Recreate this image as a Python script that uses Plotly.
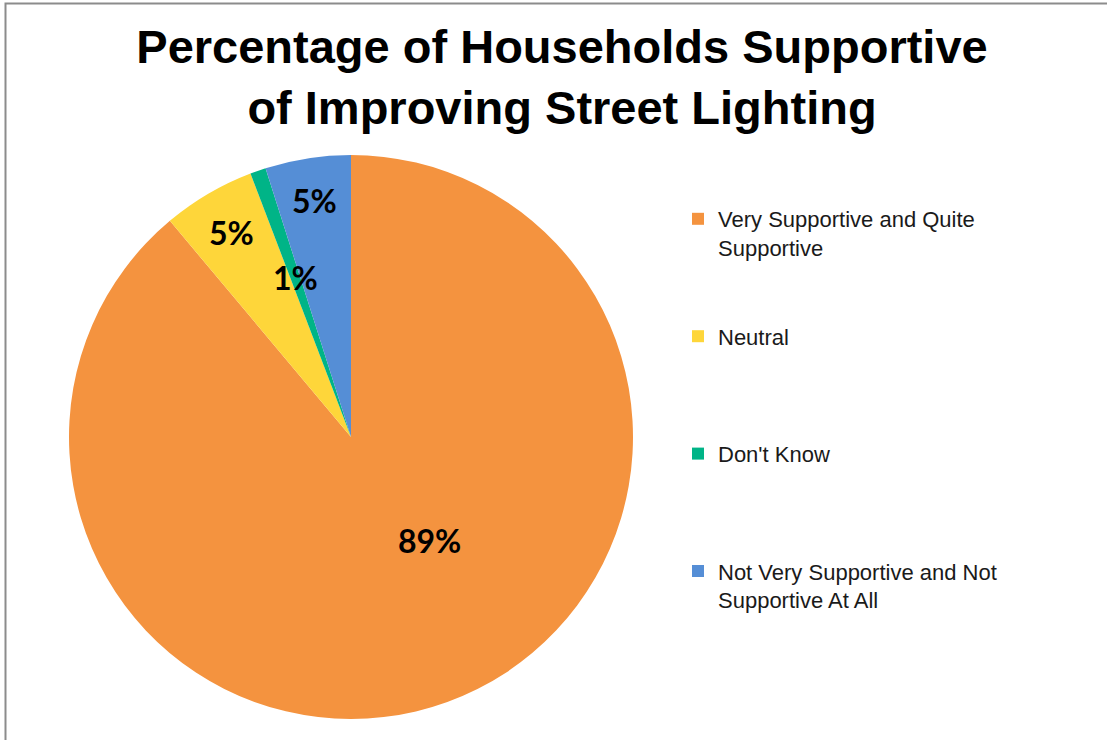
import math
import plotly.graph_objects as go

# ---- data ----
categories = [
    "Very Supportive and Quite Supportive",
    "Neutral",
    "Don't Know",
    "Not Very Supportive and Not Supportive At All",
]
legend_text = [
    "Very Supportive and Quite<br>Supportive",
    "Neutral",
    "Don't Know",
    "Not Very Supportive and Not<br>Supportive At All",
]
shares = [88.9, 5.3, 0.9, 4.9]
colors = ["#F4933F", "#FED63A", "#00B487", "#558ED6"]
title_text = "Percentage of Households Supportive<br>of Improving Street Lighting"

# label placement style (fraction of radius, angular nudge in degrees)
label_radius = [0.46, 0.84, 0.60, 0.85]
label_nudge = [-17, 0, 0, 0]

# pad legend entries to equal height (4 text lines each)
LINES_PER_ITEM = 4
labels = [t + "<br>&nbsp;" * (LINES_PER_ITEM - (t.count("<br>") + 1)) for t in legend_text]

W, H = 1107, 740
cx, cy, R = 351, 437, 282

fig = go.Figure(
    go.Pie(
        labels=labels,
        values=shares,
        customdata=categories,
        sort=False,
        direction="clockwise",
        rotation=0,
        marker=dict(colors=colors, line=dict(width=0)),
        textinfo="none",
        hovertemplate="%{customdata}: %{percent}<extra></extra>",
        domain=dict(x=[(cx - R) / W, (cx + R) / W], y=[1 - (cy + R) / H, 1 - (cy - R) / H]),
    )
)

# data labels placed on each slice (derived from the values)
total = sum(shares)
annotations = []
cum = 0.0
for v, rf, nudge in zip(shares, label_radius, label_nudge):
    mid = (cum + v / 2) / total * 360 + nudge
    cum += v
    px = cx + rf * R * math.sin(math.radians(mid))
    py = cy - rf * R * math.cos(math.radians(mid))
    annotations.append(
        dict(
            x=px / W,
            y=1 - py / H,
            xref="paper",
            yref="paper",
            text=f"{round(v / total * 100)}%",
            showarrow=False,
            xanchor="center",
            yanchor="middle",
            font=dict(family="Lato", size=32, color="black", weight="bold"),
        )
    )

fig.update_layout(
    width=W,
    height=H,
    autosize=False,
    margin=dict(l=0, r=0, t=0, b=0),
    paper_bgcolor="white",
    plot_bgcolor="white",
    title=dict(
        text=title_text,
        font=dict(family="Liberation Sans, Arial", size=47, color="black", weight="bold"),
        x=562 / W,
        xanchor="center",
        xref="paper",
        y=1 - 63 / H,
        yanchor="middle",
        yref="container",
    ),
    legend=dict(
        x=678 / W,
        xanchor="left",
        y=1 - 198 / H,
        yanchor="top",
        valign="top",
        font=dict(family="Liberation Sans, Arial", size=22, color="#1a1a1a"),
        bgcolor="rgba(0,0,0,0)",
    ),
    annotations=annotations,
    shapes=[
        dict(
            type="rect",
            xref="paper",
            yref="paper",
            x0=5.5 / W,
            x1=1.05,
            y0=-0.05,
            y1=1 - 3.5 / H,
            line=dict(color="#8C8C8C", width=2),
            fillcolor="rgba(0,0,0,0)",
            layer="below",
        )
    ],
)

fig.write_html(
    "out.html",
    config={"displayModeBar": False},
    post_script="document.body.style.margin='0';",
)
